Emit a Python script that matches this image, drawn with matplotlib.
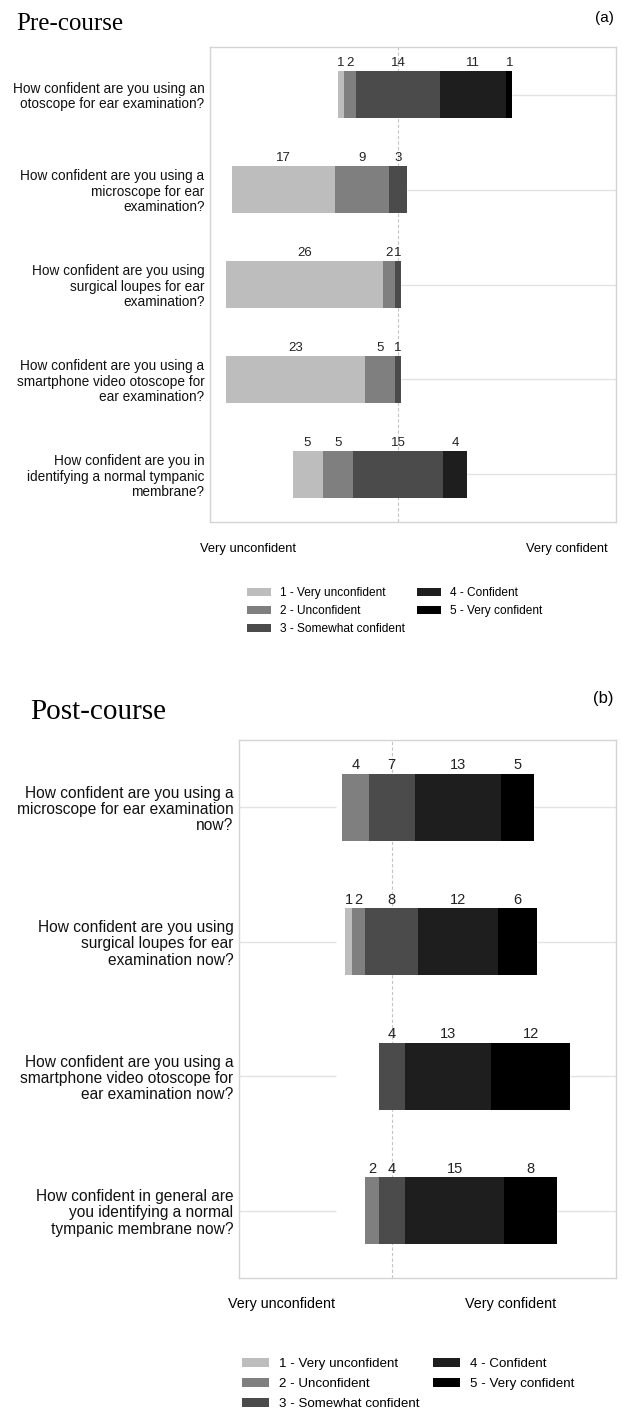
import matplotlib.pyplot as plt
from matplotlib.patches import Patch
import numpy as np

plt.rcParams['font.family'] = ['Liberation Sans', 'DejaVu Sans']

levels = ['1 - Very unconfident', '2 - Unconfident', '3 - Somewhat confident',
          '4 - Confident', '5 - Very confident']
colors = ['#bdbdbd', '#7f7f7f', '#4b4b4b', '#1e1e1e', '#000000']

pre_questions = [
    'How confident are you using an\notoscope for ear examination?',
    'How confident are you using a\nmicroscope for ear\nexamination?',
    'How confident are you using\nsurgical loupes for ear\nexamination?',
    'How confident are you using a\nsmartphone video otoscope for\near examination?',
    'How confident are you in\nidentifying a normal tympanic\nmembrane?',
]
pre_counts = np.array([
    [1, 2, 14, 11, 1],
    [17, 9, 3, 0, 0],
    [26, 2, 1, 0, 0],
    [23, 5, 1, 0, 0],
    [5, 5, 15, 4, 0],
])

post_questions = [
    'How confident are you using a\nmicroscope for ear examination\nnow?',
    'How confident are you using\nsurgical loupes for ear\nexamination now?',
    'How confident are you using a\nsmartphone video otoscope for\near examination now?',
    'How confident in general are\nyou identifying a normal\ntympanic membrane now?',
]
post_counts = np.array([
    [0, 4, 7, 13, 5],
    [1, 2, 8, 12, 6],
    [0, 0, 4, 13, 12],
    [0, 2, 4, 15, 8],
])

W, H = 622, 1409
fig = plt.figure(figsize=(W / 100, H / 100), dpi=100)


def px(x0, y0, x1, y1):
    # pixel box -> figure fraction
    return [x0 / W, 1 - y1 / H, (x1 - x0) / W, (y1 - y0) / H]


def likert(ax, questions, counts, xlim, qsize, nsize, left_grid=None):
    n = len(questions)
    y = np.arange(n)
    # bars centred on the middle of "somewhat confident"
    starts = -(counts[:, 0] + counts[:, 1] + counts[:, 2] / 2)
    ends = starts + counts.sum(axis=1)
    ax.set_xlim(xlim)
    ax.set_ylim(n - 0.5, -0.5)
    ax.axvline(0, color='#c4c4c4', ls=(0, (3, 2)), lw=0.8, zorder=0)
    ax.hlines(y, ends, xlim[1], color='#e3e3e3', lw=1, zorder=0)
    if left_grid is not None:
        ax.hlines(y, xlim[0], left_grid, color='#e3e3e3', lw=1, zorder=0)
    left = starts.copy()
    for k in range(5):
        ax.barh(y, counts[:, k], left=left, height=0.5, color=colors[k], zorder=2)
        for i in range(n):
            if counts[i, k] > 0:
                ax.annotate(str(counts[i, k]), (left[i] + counts[i, k] / 2, i - 0.25),
                            xytext=(0, 1), textcoords='offset points',
                            ha='center', va='bottom', fontsize=nsize, color='#222222')
        left = left + counts[:, k]
    ax.set_yticks(y)
    ax.set_yticklabels(questions, fontsize=qsize, linespacing=1.1, color='#111111')
    ax.tick_params(axis='y', length=0, pad=4)
    ax.set_xticks([])
    for s in ax.spines.values():
        s.set_color('#d4d4d4')
        s.set_linewidth(1)


handles = [Patch(facecolor=c, edgecolor='none') for c in colors]

# (a) pre-course
ax1 = fig.add_axes(px(210, 47, 616, 522))
likert(ax1, pre_questions, pre_counts, (-31.2, 36.2), 9.8, 9.5)
fig.text(16 / W, 1 - 24 / H, 'Pre-course', family='Liberation Serif', fontsize=18, va='center')
fig.text(614 / W, 1 - 18 / H, '(a)', fontsize=11, ha='right', va='center')
fig.text(248 / W, 1 - 549 / H, 'Very unconfident', fontsize=9.3, ha='center', va='center')
fig.text(567 / W, 1 - 549 / H, 'Very confident', fontsize=9.3, ha='center', va='center')
fig.legend(handles, levels, ncol=2, loc='upper left', bbox_to_anchor=(247 / W, 1 - 587 / H),
           frameon=False, fontsize=8.6, handlelength=2.0, handleheight=0.6,
           handletextpad=0.75, labelspacing=0.5, columnspacing=1.0,
           borderpad=0, borderaxespad=0)

# (b) post-course
ax2 = fig.add_axes(px(239, 740, 616, 1278))
likert(ax2, post_questions, post_counts, (-23.1, 33.9), 11.2, 10.5, left_grid=-8.4)
fig.text(30 / W, 1 - 712 / H, 'Post-course', family='Liberation Serif', fontsize=21, va='center')
fig.text(614 / W, 1 - 698 / H, '(b)', fontsize=12, ha='right', va='center')
fig.text(281 / W, 1 - 1304 / H, 'Very unconfident', fontsize=10.3, ha='center', va='center')
fig.text(511 / W, 1 - 1304 / H, 'Very confident', fontsize=10.3, ha='center', va='center')
fig.legend(handles, levels, ncol=2, loc='upper left', bbox_to_anchor=(242 / W, 1 - 1358 / H),
           frameon=False, fontsize=9.6, handlelength=2.0, handleheight=0.6,
           handletextpad=0.8, labelspacing=0.6, columnspacing=1.0,
           borderpad=0, borderaxespad=0)

fig.savefig('out.png', dpi=100)
